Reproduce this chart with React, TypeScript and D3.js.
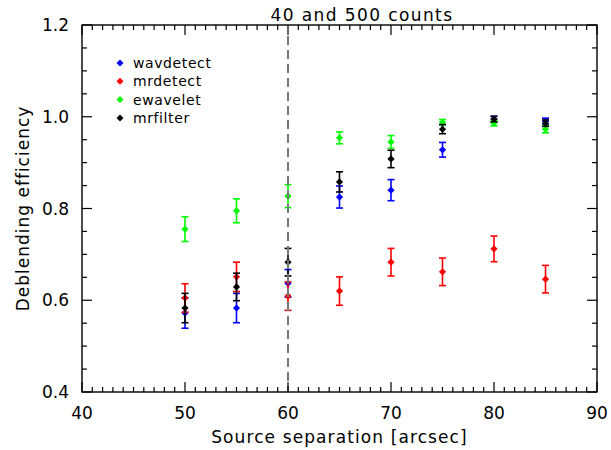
import React from "react";
import * as d3 from "d3";

const separations = [50, 55, 60, 65, 70, 75, 80, 85];
const seriesNames = ["wavdetect", "mrdetect", "ewavelet", "mrfilter"];
const seriesColors = ["#0000ff", "#ff0000", "#00ff00", "#000000"];
const wavdetect = [0.572, 0.583, 0.637, 0.825, 0.84, 0.928, 0.995, 0.99];
const wavdetectErr = [0.033, 0.032, 0.03, 0.024, 0.023, 0.016, 0.006, 0.007];
const mrdetect = [0.605, 0.651, 0.609, 0.62, 0.683, 0.662, 0.712, 0.646];
const mrdetectErr = [0.031, 0.032, 0.031, 0.031, 0.03, 0.03, 0.028, 0.03];
const ewavelet = [0.755, 0.795, 0.827, 0.954, 0.945, 0.988, 0.986, 0.973];
const ewaveletErr = [0.027, 0.026, 0.025, 0.013, 0.014, 0.006, 0.006, 0.008];
const mrfilter = [0.583, 0.629, 0.683, 0.858, 0.908, 0.973, 0.995, 0.986];
const mrfilterErr = [0.032, 0.03, 0.03, 0.022, 0.019, 0.01, 0.006, 0.007];
const xTicks = [40, 50, 60, 70, 80, 90];
const yTicks = [0.4, 0.6, 0.8, 1.0, 1.2];
const threshold = 60;
const title = "40 and 500 counts";
const xTitle = "Source separation [arcsec]";
const yTitle = "Deblending efficiency";

const W = 611;
const H = 450;
const M = { left: 82, right: 597, top: 25, bottom: 392 };
const FONT = "'DejaVu Sans', sans-serif";
const FW = 400;

const x = d3.scaleLinear().domain([40, 90]).range([M.left, M.right]);
const y = d3.scaleLinear().domain([0.4, 1.2]).range([M.bottom, M.top]);
const xMinor = d3.range(40, 91, 1);
const yMinor = d3.range(0, 17).map((i) => 0.4 + i * 0.05);
const fmtY = d3.format(".1f");

const diamond = (cx: number, cy: number, r: number) =>
  `M${cx},${cy - r}L${cx + r},${cy}L${cx},${cy + r}L${cx - r},${cy}Z`;

export default function App() {
  const values = [wavdetect, mrdetect, ewavelet, mrfilter];
  const errs = [wavdetectErr, mrdetectErr, ewaveletErr, mrfilterErr];

  return (
    <svg width={W} height={H} style={{ position: "absolute", left: 0, top: 0, background: "white" }}>
      {/* tick labels */}
      {xTicks.map((v) => (
        <text key={"xl" + v} x={x(v)} y={419} textAnchor="middle" fontFamily={FONT}
          fontSize={17} fontWeight={FW} fill="black">{v}</text>
      ))}
      {yTicks.map((v) => (
        <text key={"yl" + v} x={69} y={y(v) + 6} textAnchor="end" fontFamily={FONT}
          fontSize={17} fontWeight={FW} fill="black">{fmtY(v)}</text>
      ))}
      {/* data */}
      {values.map((vals, si) => (
        <g key={"s" + si}>
          {separations.map((sx, i) => {
            const px = x(sx);
            const y0 = y(vals[i] - errs[si][i]);
            const y1 = y(vals[i] + errs[si][i]);
            const c = seriesColors[si];
            return (
              <g key={i}>
                <line x1={px} x2={px} y1={y0} y2={y1} stroke={c} strokeWidth={1.6} />
                <line x1={px - 3.5} x2={px + 3.5} y1={y0} y2={y0} stroke={c} strokeWidth={1.6} />
                <line x1={px - 3.5} x2={px + 3.5} y1={y1} y2={y1} stroke={c} strokeWidth={1.6} />
                <path d={diamond(px, y(vals[i]), 3.6)} fill={c} />
              </g>
            );
          })}
        </g>
      ))}
      {/* threshold */}
      <line x1={x(threshold)} x2={x(threshold)} y1={M.top + 11} y2={M.bottom}
        stroke="#777777" strokeWidth={2} strokeDasharray="9,5" />
      {/* legend */}
      {seriesNames.map((name, i) => {
        const ly = 63 + i * 18.3;
        return (
          <g key={name}>
            <path d={diamond(120, ly, 3.5)} fill={seriesColors[i]} />
            <text x={133} y={ly + 5} fontFamily={FONT} fontSize={14} fontWeight={FW}
              letterSpacing={0.6} fill="black">{name}</text>
          </g>
        );
      })}
      {/* titles */}
      <text x={362} y={21} textAnchor="middle" fontFamily={FONT} fontSize={17}
        fontWeight={FW} letterSpacing={1.4} fill="black">{title}</text>
      <text x={(M.left + M.right) / 2} y={443} textAnchor="middle" fontFamily={FONT}
        fontSize={17} fontWeight={FW} letterSpacing={1.1} fill="black">{xTitle}</text>
      <text transform={`translate(29,${(M.top + M.bottom) / 2}) rotate(-90)`} textAnchor="middle"
        fontFamily={FONT} fontSize={17} fontWeight={FW} letterSpacing={1} fill="black">{yTitle}</text>
      {/* ticks, drawn after the data */}
      <g>
        {xMinor.map((v) => {
          const len = xTicks.includes(v) ? 10 : 5;
          return (
            <g key={"xm" + v}>
              <line x1={x(v)} x2={x(v)} y1={M.bottom} y2={M.bottom - len} stroke="black" strokeWidth={1.2} />
              <line x1={x(v)} x2={x(v)} y1={M.top} y2={M.top + len} stroke="black" strokeWidth={1.2} />
            </g>
          );
        })}
        {yMinor.map((v, i) => {
          const len = i % 4 === 0 ? 10 : 5;
          return (
            <g key={"ym" + i}>
              <line x1={M.left} x2={M.left + len} y1={y(v)} y2={y(v)} stroke="black" strokeWidth={1.2} />
              <line x1={M.right} x2={M.right - len} y1={y(v)} y2={y(v)} stroke="black" strokeWidth={1.2} />
            </g>
          );
        })}
      </g>
      {/* frame, drawn last */}
      <rect x={M.left} y={M.top} width={M.right - M.left} height={M.bottom - M.top}
        fill="none" stroke="black" strokeWidth={1.4} />
    </svg>
  );
}
